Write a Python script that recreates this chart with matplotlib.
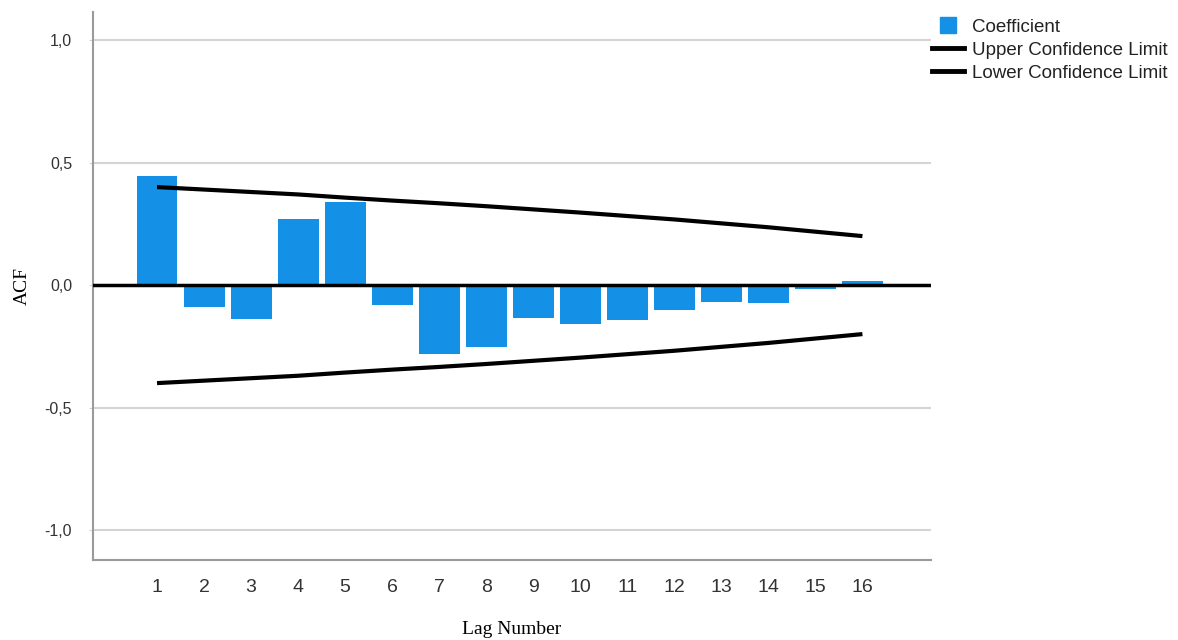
import numpy as np
import matplotlib
matplotlib.use("Agg")
import matplotlib.pyplot as plt
from matplotlib.lines import Line2D

lags = list(range(1, 17))
acf = [0.445, -0.09, -0.14, 0.27, 0.34, -0.08, -0.28, -0.253,
       -0.135, -0.16, -0.143, -0.10, -0.07, -0.075, -0.014, 0.018]
upper = [0.40, 0.39, 0.38, 0.37, 0.357, 0.345, 0.334, 0.322,
         0.309, 0.296, 0.282, 0.268, 0.252, 0.236, 0.218, 0.20]
lower = [-u for u in upper]
yticks = [-1.0, -0.5, 0.0, 0.5, 1.0]
ytick_labels = ["-1,0", "-0,5", "0,0", "0,5", "1,0"]

bar_color = "#1490e6"
tick_color = "#333333"

fig = plt.figure(figsize=(11.78, 6.4), dpi=100)
ax = fig.add_axes([0.079, 0.125, 0.711, 0.856])

for y in yticks:
    ax.axhline(y, color="#d4d4d4", lw=1.5, zorder=0)

ax.bar(lags, acf, width=0.87, color=bar_color, zorder=2)
ax.axhline(0, color="black", lw=2.5, zorder=3)
ax.plot(lags, upper, color="black", lw=3, zorder=4, solid_capstyle="butt")
ax.plot(lags, lower, color="black", lw=3, zorder=4, solid_capstyle="butt")

ax.set_xlim(-0.36, 17.45)
ax.set_ylim(-1.122, 1.114)
ax.set_xticks(lags)
ax.set_xticklabels([str(l) for l in lags], fontsize=14, color=tick_color,
                   family="Liberation Sans")
ax.set_yticks(yticks)
ax.set_yticklabels(ytick_labels, fontsize=11.5, color=tick_color,
                   family="Liberation Sans")
ax.tick_params(axis="x", length=0, pad=14)
ax.tick_params(axis="y", length=3, color="#d4d4d4", pad=12)

for s in ["top", "right"]:
    ax.spines[s].set_visible(False)
for s in ["left", "bottom"]:
    ax.spines[s].set_color("#9a9a9a")
    ax.spines[s].set_linewidth(1.5)

ax.set_xlabel("Lag Number", family="Liberation Serif", fontsize=14, labelpad=18)
ax.set_ylabel("ACF", family="Liberation Serif", fontsize=14, labelpad=10)

handles = [Line2D([0], [0], marker="s", color=bar_color, ls="none", markersize=12),
           Line2D([0], [0], color="black", lw=3.5),
           Line2D([0], [0], color="black", lw=3.5)]
labels = ["Coefficient", "Upper Confidence Limit", "Lower Confidence Limit"]
leg = fig.legend(handles, labels, loc="upper left", bbox_to_anchor=(0.785, 0.983),
                 frameon=False, prop={"family": "Liberation Sans", "size": 13.5},
                 handlelength=1.7, handletextpad=0.4, labelspacing=0.32,
                 borderaxespad=0, labelcolor="#222222")

fig.savefig("out.png", dpi=100)
